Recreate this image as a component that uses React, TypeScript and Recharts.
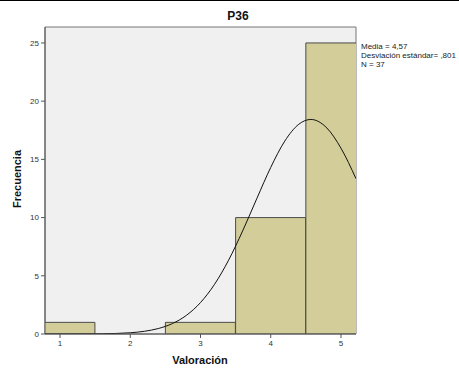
import {
  Bar,
  ComposedChart,
  Line,
  XAxis,
  YAxis,
  ReferenceArea,
} from "recharts";

// histogram bins (centre of bin, frequency)
const binCenters = [1, 3, 4, 5];
const frequencies = [1, 1, 10, 25];

// fitted normal curve
const curveX = [
  0.786, 1.2, 1.6, 1.8, 2.0, 2.2, 2.4, 2.6, 2.8, 3.0, 3.2, 3.4, 3.6, 3.8, 4.0,
  4.2, 4.4, 4.57, 4.8, 5.0, 5.214,
];
const curveY = [
  0, 0.002, 0.019, 0.047, 0.107, 0.231, 0.47, 0.896, 1.605, 2.7, 4.268, 6.342,
  8.853, 11.61, 14.31, 16.57, 18.02, 18.43, 17.69, 15.96, 13.34,
];

const xTicks = [1, 2, 3, 4, 5];
const yTicks = [0, 5, 10, 15, 20, 25];

const stats = ["Media = 4,57", "Desviación estándar= ,801", "N = 37"];

const barData = binCenters.map((x, i) => ({ x, freq: frequencies[i] }));
const curveData = curveX.map((x, i) => ({ x, curve: curveY[i] }));

const font = "'Liberation Sans', Arial, sans-serif";
const xDomain: [number, number] = [0.786, 5.214];

export default function App() {
  return (
    <div
      style={{
        position: "absolute",
        left: 0,
        top: 0,
        width: 459,
        height: 371,
        background: "#fff",
        fontFamily: font,
      }}
    >
      <div
        style={{
          position: "absolute",
          left: 0,
          top: 0,
          width: 459,
          height: 1,
          background: "#000",
        }}
      />
      <ComposedChart
        width={459}
        height={371}
        data={barData}
        margin={{ top: 27, right: 103, left: 25, bottom: 17 }}
      >
        <ReferenceArea
          x1={xDomain[0]}
          x2={xDomain[1]}
          y1={0}
          y2={26.37}
          fill="#f0f0f0"
          fillOpacity={1}
          stroke="#777"
          strokeWidth={1}
          ifOverflow="extendDomain"
        />
        <XAxis
          dataKey="x"
          type="number"
          domain={xDomain}
          ticks={xTicks}
          allowDataOverflow
          height={20}
          stroke="#555"
          tickSize={4}
          tick={{ fontSize: 8, fill: "#333", fontFamily: font }}
        />
        <XAxis
          xAxisId="curve"
          dataKey="x"
          type="number"
          domain={xDomain}
          allowDataOverflow
          hide
        />
        <YAxis
          type="number"
          domain={[0, 26.37]}
          ticks={yTicks}
          allowDataOverflow
          width={20}
          stroke="#555"
          tickSize={4}
          tick={{ fontSize: 8, fill: "#333", fontFamily: font }}
        />
        <Bar
          dataKey="freq"
          fill="#d3ce99"
          stroke="#4a4a4a"
          strokeWidth={1}
          barSize={70}
          isAnimationActive={false}
        />
        <Line
          xAxisId="curve"
          data={curveData}
          dataKey="curve"
          type="monotone"
          stroke="#111"
          strokeWidth={1}
          dot={false}
          activeDot={false}
          isAnimationActive={false}
        />
      </ComposedChart>
      <div
        style={{
          position: "absolute",
          left: 200,
          width: 76,
          top: 9,
          textAlign: "center",
          fontSize: 12,
          fontWeight: "bold",
          color: "#111",
        }}
      >
        P36
      </div>
      <div
        style={{
          position: "absolute",
          left: 150,
          width: 100,
          top: 354,
          textAlign: "center",
          fontSize: 11,
          fontWeight: "bold",
          color: "#111",
        }}
      >
        Valoración
      </div>
      <div
        style={{
          position: "absolute",
          left: -33,
          top: 173,
          width: 100,
          textAlign: "center",
          fontSize: 11,
          fontWeight: "bold",
          color: "#111",
          transform: "rotate(-90deg)",
        }}
      >
        Frecuencia
      </div>
      <div
        style={{
          position: "absolute",
          left: 361,
          top: 42,
          fontSize: 8,
          lineHeight: "9px",
          color: "#222",
          whiteSpace: "nowrap",
        }}
      >
        {stats.map((s) => (
          <div key={s}>{s}</div>
        ))}
      </div>
    </div>
  );
}
